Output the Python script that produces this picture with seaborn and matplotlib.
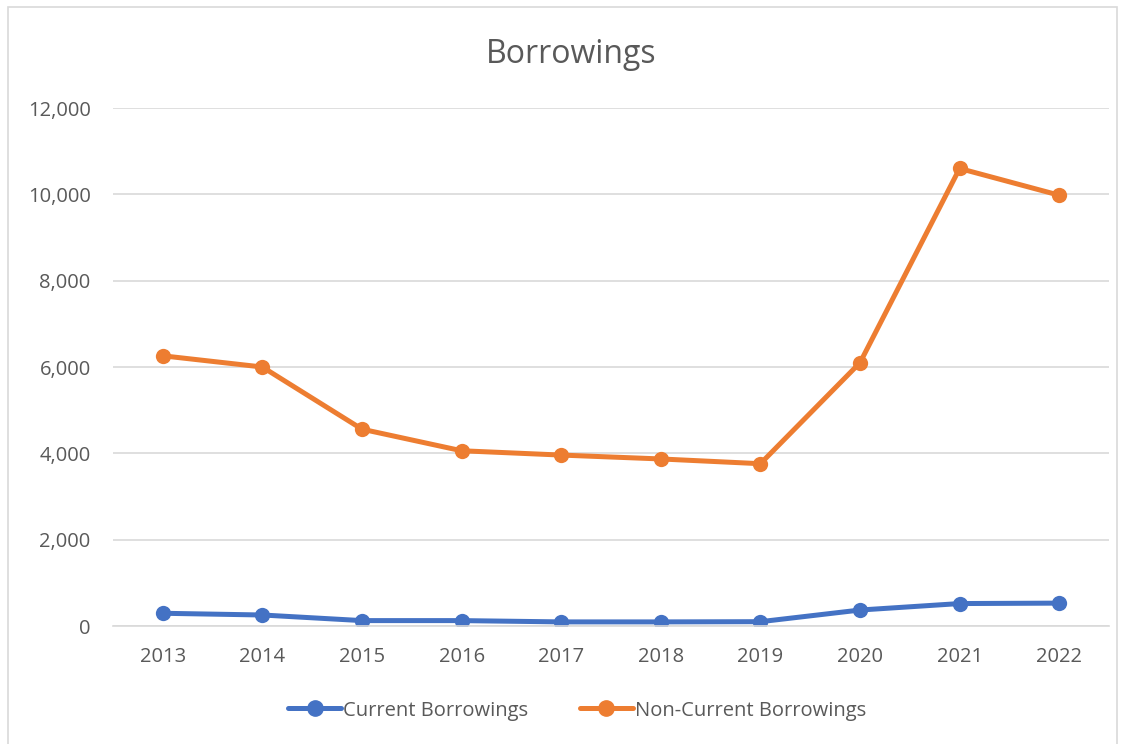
import pandas as pd
import matplotlib.pyplot as plt
import seaborn as sns

# Values
years = ['2013', '2014', '2015', '2016', '2017', '2018', '2019', '2020', '2021', '2022']
current = [295, 255, 125, 125, 95, 95, 100, 370, 520, 530]
non_current = [6260, 6000, 4560, 4060, 3960, 3870, 3760, 6100, 10600, 9980]

df = pd.DataFrame({
    'Year': years * 2,
    'Value': current + non_current,
    'Series': ['Current Borrowings'] * len(years) + ['Non-Current Borrowings'] * len(years),
})

sns.set_style('white')
plt.rcParams['font.family'] = ['Open Sans', 'DejaVu Sans']

fig = plt.figure(figsize=(11.25, 7.44), dpi=100)
ax = fig.add_axes([0.1004, 0.1586, 0.8854, 0.6962])

palette = {'Current Borrowings': '#4472C4', 'Non-Current Borrowings': '#ED7D31'}
sns.lineplot(data=df, x='Year', y='Value', hue='Series', palette=palette,
             marker='o', markersize=11, markeredgewidth=0, linewidth=3.6,
             ax=ax, legend=False, sort=False)

ax.set_xlim(-0.5, 9.5)
ax.set_ylim(0, 12000)
ax.set_yticks(range(0, 12001, 2000))
ax.set_yticklabels([f'{v:,}' for v in range(0, 12001, 2000)])
ax.grid(axis='y', color='#D9D9D9', linewidth=1.2)
ax.set_axisbelow(True)
for s in ['top', 'right', 'left']:
    ax.spines[s].set_visible(False)
ax.spines['bottom'].set_color('#D9D9D9')
ax.spines['bottom'].set_linewidth(1.2)
ax.tick_params(axis='both', length=0, labelsize=14.5, colors='#595959')
ax.tick_params(axis='x', pad=15)
ax.tick_params(axis='y', pad=16)
ax.set_xlabel('')
ax.set_ylabel('')

fig.text(0.508, 0.927, 'Borrowings', ha='center', va='center', fontsize=23, color='#595959')

handles = [plt.Line2D([], [], color=palette[k], marker='o', markersize=11, linewidth=3.6)
           for k in palette]
fig.legend(handles, list(palette), loc='center', bbox_to_anchor=(0.513, 0.045), ncol=2,
           frameon=False, fontsize=14.5, labelcolor='#595959', handlelength=2.6,
           handletextpad=0.1, columnspacing=2.6)

# chart border
fig.add_artist(plt.Rectangle((0.007, -0.01), 0.986, 1.0, transform=fig.transFigure,
                             fill=False, edgecolor='#D9D9D9', linewidth=1.2))

fig.savefig('out.png', dpi=100, facecolor='white')
